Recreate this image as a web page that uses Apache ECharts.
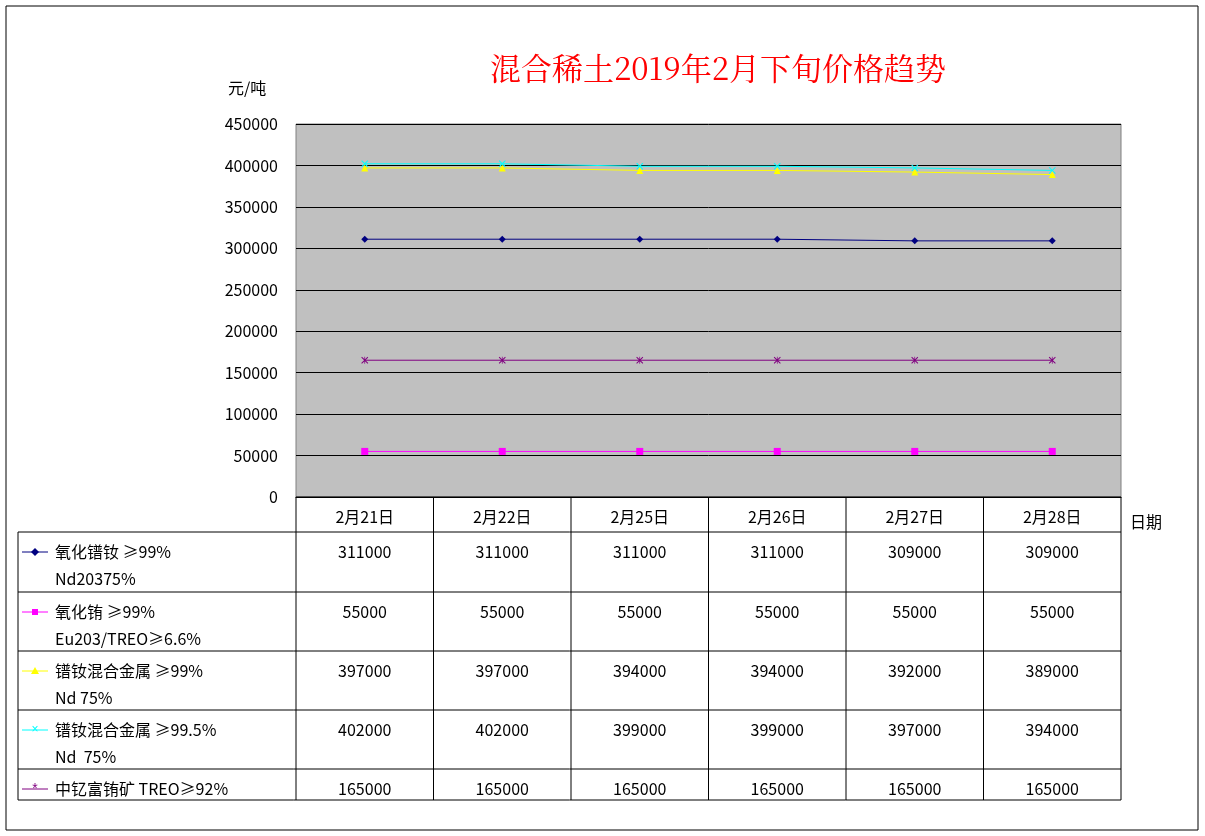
<!DOCTYPE html>
<html><head><meta charset="utf-8">
<script src="https://cdn.jsdelivr.net/npm/echarts@6/dist/echarts.min.js"></script>
<style>body{margin:0;background:#fff}#chartmain{width:1205px;height:836px}</style>
</head><body>
<div id="chartmain"></div>
<script>
var days = ['2月21日', '2月22日', '2月25日', '2月26日', '2月27日', '2月28日'];
var prNd = [311000, 311000, 311000, 311000, 309000, 309000];
var euOx = [55000, 55000, 55000, 55000, 55000, 55000];
var prNdMetal99 = [397000, 397000, 394000, 394000, 392000, 389000];
var prNdMetal995 = [402000, 402000, 399000, 399000, 397000, 394000];
var euOre = [165000, 165000, 165000, 165000, 165000, 165000];
var names1 = ['氧化镨钕 ≥99%', '氧化铕 ≥99%', '镨钕混合金属 ≥99%', '镨钕混合金属 ≥99.5%', '中钇富铕矿 TREO≥92%'];
var names2 = ['Nd20375%', 'Eu203/TREO≥6.6%', 'Nd 75%', 'Nd  75%', ''];
var colors = ['#000080', '#ff00ff', '#ffff00', '#00ffff', '#800080'];
var xPath = 'path://M0,1L1,0L5,4L9,0L10,1L6,5L10,9L9,10L5,6L1,10L0,9L4,5Z';
var starPath = 'path://M0,1L1,0L5,4L9,0L10,1L6,5L10,9L9,10L5,6L1,10L0,9L4,5ZM4.5,0H5.5V10H4.5Z';
var symbols = ['diamond', 'rect', 'triangle', xPath, starPath];
var allData = [prNd, euOx, prNdMetal99, prNdMetal995, euOre];

var font = '"Noto Sans CJK SC", sans-serif';
var series = allData.map(function(d, i) {
	return {
		name: names1[i], type: 'line', data: d, symbol: symbols[i], symbolSize: 7,
		color: colors[i], lineStyle: { width: 1, color: colors[i] }, animation: false
	};
});

var myChart = echarts.init(document.getElementById('chartmain'));
myChart.setOption({
	animation: false,
	title: {
		text: '混合稀土2019年2月下旬价格趋势', left: 713, top: 48, textAlign: 'center',
		textStyle: { color: '#ff0000', fontSize: 31, fontWeight: 'normal', fontFamily: '"Noto Serif CJK SC", "Noto Sans CJK SC", serif' }
	},
	grid: { left: 296, right: 84, top: 124, bottom: 339, show: true, backgroundColor: '#c0c0c0', borderColor: '#808080', borderWidth: 1 },
	xAxis: {
		type: 'category', data: days, boundaryGap: true,
		axisLine: { lineStyle: { color: '#000' } }, axisTick: { show: false },
		axisLabel: { color: '#000', fontSize: 16, fontFamily: font, margin: 12 }
	},
	yAxis: {
		type: 'value', min: 0, max: 450000, interval: 50000,
		axisLine: { show: false }, axisTick: { show: false },
		axisLabel: { color: '#000', fontSize: 16, fontFamily: font, margin: 18, formatter: function(v) { return String(v); } },
		splitLine: { lineStyle: { color: '#000', width: 1 } }
	},
	series: series
});

// data table under the plot
var g = [];
var rowsY = [497, 532, 592, 651, 710, 769, 800];
var half = (myChart.convertToPixel({ xAxisIndex: 0 }, 1) - myChart.convertToPixel({ xAxisIndex: 0 }, 0)) / 2;
var left = 296, right = myChart.convertToPixel({ xAxisIndex: 0 }, days.length - 1) + half;
function line(x1, y1, x2, y2) {
	g.push({ type: 'line', shape: { x1: x1, y1: y1, x2: x2, y2: y2 }, style: { stroke: '#000', lineWidth: 1 } });
}
function text(x, y, s, align) {
	g.push({ type: 'text', x: x, y: y, style: { text: s, fill: '#000', font: '16px ' + font, textAlign: align || 'left', textVerticalAlign: 'middle' } });
}
g.push({ type: 'rect', shape: { x: 6, y: 6, width: 1192, height: 824 }, style: { fill: 'none', stroke: '#000', lineWidth: 1 } });
line(left, 497, right, 497);
for (var r = 1; r < rowsY.length; r++) line(18, rowsY[r], right, rowsY[r]);
line(18, 532, 18, 800);
for (var c = 0; c <= days.length; c++) {
	var cx = left + c * half * 2;
	line(cx, 497, cx, 800);
}
text(1130, 522, '日期');
text(228, 88, '元/吨');
for (var i = 0; i < allData.length; i++) {
	var rowTop = rowsY[i + 1];
	g.push({ type: 'line', shape: { x1: 22, y1: rowTop + 20, x2: 48, y2: rowTop + 20 }, style: { stroke: colors[i], lineWidth: 1 } });
	text(55, rowTop + 20, names1[i]);
	if (names2[i]) text(55, rowTop + 47, names2[i]);
	for (var j = 0; j < days.length; j++) {
		text(myChart.convertToPixel({ xAxisIndex: 0 }, j), rowTop + 20, String(allData[i][j]), 'center');
	}
}
var mk = [
	{ type: 'polygon', shape: { points: [[35, -4], [39, 0], [35, 4], [31, 0]] } },
	{ type: 'rect', shape: { x: 32, y: -3, width: 6, height: 6 } },
	{ type: 'polygon', shape: { points: [[35, -4], [39, 3], [31, 3]] } },
	{ type: 'text', style: { text: '×', font: '12px sans-serif', textAlign: 'center', textVerticalAlign: 'middle' }, x: 35 },
	{ type: 'text', style: { text: '*', font: '14px sans-serif', textAlign: 'center', textVerticalAlign: 'middle' }, x: 35 }
];
mk.forEach(function(m, i) {
	m.y = rowsY[i + 1] + 20;
	m.style = Object.assign({}, m.style || {}, { fill: colors[i] });
	g.push(m);
});
myChart.setOption({ graphic: g });
</script>
</body></html>
